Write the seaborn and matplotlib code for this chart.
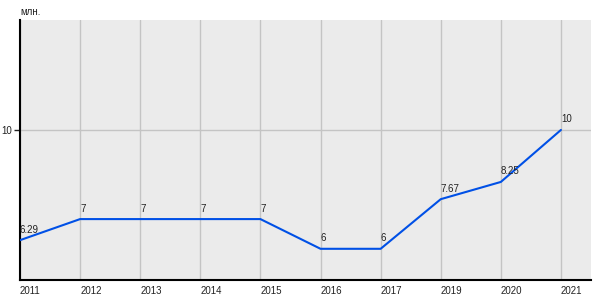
import matplotlib
matplotlib.use("Agg")
import matplotlib.pyplot as plt
import seaborn as sns
import pandas as pd

years = ["2011", "2012", "2013", "2014", "2015", "2016", "2017", "2019", "2020", "2021"]
values = [6.29, 7, 7, 7, 7, 6, 6, 7.67, 8.25, 10]
labels = ["6.29", "7", "7", "7", "7", "6", "6", "7.67", "8.25", "10"]
y_ticks = [10]
unit = "млн."

sns.set_theme(style="white")
plt.rcParams["font.family"] = ["Liberation Sans", "DejaVu Sans"]

df = pd.DataFrame({"year": years, "value": values})
df["pos"] = range(len(years))

fig = plt.figure(figsize=(6, 3), dpi=100)
ax = fig.add_axes([20/600, 20/300, 571/600, 260/300])
ax.set_facecolor("#ebebeb")

sns.lineplot(data=df, x="pos", y="value", ax=ax, color="#0050e6", linewidth=1.5, zorder=3)

for p, v, t in zip(df["pos"], values, labels):
    ax.annotate(t, (p, v), xytext=(0, 4), textcoords="offset points",
                ha="left", va="bottom", fontsize=7, color="#222222", zorder=4)

ax.set_xlim(0, 9.5)
ax.set_ylim(4.95, 13.7)
ax.set_xticks(df["pos"])
ax.set_xticklabels(years, ha="left")
ax.set_yticks(y_ticks)
ax.set_yticklabels([str(t) for t in y_ticks])
ax.tick_params(axis="x", length=0, labelsize=7, pad=4, colors="#222222")
ax.tick_params(axis="y", length=4, width=1, labelsize=7, pad=2, colors="#222222", left=True)
ax.grid(True, color="#c4c4c4", linewidth=1, zorder=1)
ax.set_axisbelow(True)
ax.set_xlabel("")
ax.set_ylabel("")
for s in ["top", "right"]:
    ax.spines[s].set_visible(False)
ax.spines["left"].set_color("black")
ax.spines["left"].set_linewidth(1.5)
ax.spines["bottom"].set_color("black")
ax.spines["bottom"].set_linewidth(1.5)

fig.text(20/600, 1 - 12/300, unit, fontsize=7, ha="left", va="center", color="#222222")

fig.savefig("out.png", dpi=100, facecolor="white")
